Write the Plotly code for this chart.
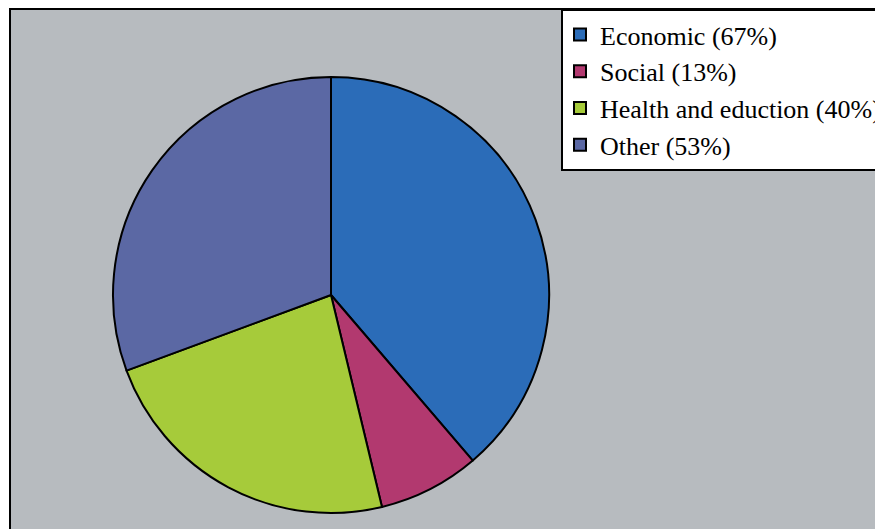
import plotly.graph_objects as go

labels = ["Economic (67%)", "Social (13%)", "Health and eduction (40%)", "Other (53%)"]
values = [67, 13, 40, 53]
colors = ["#2B6CB8", "#B2396F", "#A6CB3A", "#5B68A4"]

W, H = 875, 529
cx, cy, r = 331, 295, 218

fig = go.Figure(go.Pie(
    labels=labels,
    values=values,
    sort=False,
    direction="clockwise",
    rotation=0,
    textinfo="none",
    marker=dict(colors=colors, line=dict(color="black", width=2)),
    domain=dict(x=[(cx - r) / W, (cx + r) / W], y=[1 - (cy + r) / H, 1 - (cy - r) / H]),
))

fig.update_layout(
    width=W, height=H,
    margin=dict(l=0, r=0, t=0, b=0, autoexpand=False),
    paper_bgcolor="white",
    showlegend=True,
    legend=dict(
        x=561 / W, y=1 - 9 / H, xanchor="left", yanchor="top",
        bgcolor="white", bordercolor="black", borderwidth=2,
        indentation=-3,
        font=dict(family="Liberation Serif", size=26, color="black"),
    ),
    shapes=[dict(
        type="rect", xref="paper", yref="paper", layer="below",
        x0=10 / W, x1=1.2, y0=-0.2, y1=1 - 9 / H,
        fillcolor="#B7BBBF", line=dict(color="black", width=2),
    )],
)

fig.write_html(
    "out.html",
    config={"displayModeBar": False},
    post_script="document.body.style.margin='0';document.body.style.overflow='hidden';",
)
